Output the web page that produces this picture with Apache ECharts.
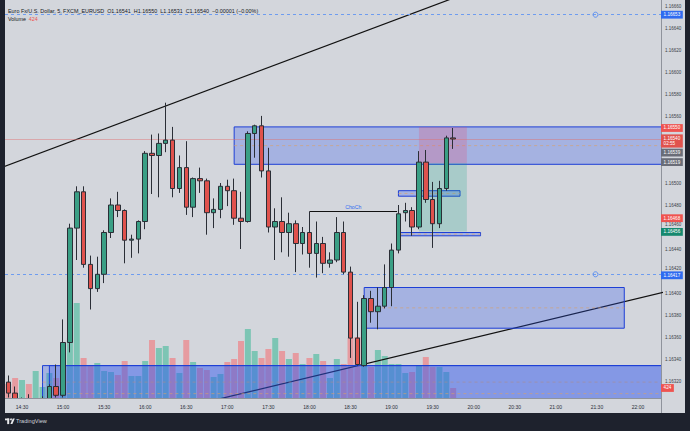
<!DOCTYPE html>
<html><head><meta charset="utf-8">
<script src="https://cdn.jsdelivr.net/npm/echarts@6/dist/echarts.min.js"></script>
<style>html,body{margin:0;padding:0;background:#1e222d;}#c{width:690px;height:431px;}</style>
</head><body><div id="c"></div><script>
// ---------- DATA ----------
const symbolTitle = 'Euro Fx/U.S. Dollar, 5, FXCM_EURUSD';
const times = ['14:20','14:25','14:30','14:35','14:40','14:45','14:50','14:55',
'15:00','15:05','15:10','15:15','15:20','15:25','15:30','15:35','15:40','15:45','15:50','15:55',
'16:00','16:05','16:10','16:15','16:20','16:25','16:30','16:35','16:40','16:45','16:50','16:55',
'17:00','17:05','17:10','17:15','17:20','17:25','17:30','17:35','17:40','17:45','17:50','17:55',
'18:00','18:05','18:10','18:15','18:20','18:25','18:30','18:35','18:40','18:45','18:50','18:55',
'19:00','19:05','19:10','19:15','19:20','19:25','19:30','19:35','19:40','19:45'];
const opens = [1.16319,1.16309,1.16298,1.16302,1.16297,1.16300,1.16302,1.16315,
1.16307,1.16355,1.16459,1.16492,1.16426,1.16404,1.16417,1.16455,1.16480,1.16475,1.16448,1.16449,
1.16465,1.16527,1.16525,1.16536,1.16539,1.16495,1.16514,1.16478,1.16504,1.16502,1.16473,1.16476,
1.16497,1.16493,1.16468,1.16465,1.16545,1.16552,1.16511,1.16460,1.16465,1.16455,1.16463,1.16445,
1.16455,1.16436,1.16445,1.16427,1.16430,1.16455,1.16419,1.16359,1.16334,1.16395,1.16383,1.16388,
1.16405,1.16439,1.16473,1.16475,1.16460,1.16519,1.16485,1.16463,1.16495,1.16541];
const highs = [1.16325,1.16315,1.16305,1.16308,1.16304,1.16306,1.16317,1.16335,
1.16376,1.16463,1.16497,1.16497,1.16434,1.16433,1.16457,1.16486,1.16492,1.16476,1.16453,1.16466,
1.16529,1.16544,1.16545,1.16573,1.16551,1.16525,1.16538,1.16505,1.16514,1.16504,1.16486,1.16500,
1.16503,1.16504,1.16492,1.16547,1.16553,1.16561,1.16532,1.16477,1.16487,1.16473,1.16466,1.16460,
1.16474,1.16465,1.16451,1.16437,1.16469,1.16465,1.16424,1.16392,1.16398,1.16402,1.16405,1.16426,
1.16445,1.16480,1.16482,1.16478,1.16529,1.16530,1.16501,1.16502,1.16543,1.16550];
const lows = [1.16305,1.16298,1.16294,1.16294,1.16293,1.16296,1.16299,1.16305,
1.16305,1.16346,1.16430,1.16423,1.16385,1.16401,1.16409,1.16450,1.16469,1.16427,1.16432,1.16436,
1.16458,1.16490,1.16487,1.16528,1.16487,1.16491,1.16471,1.16469,1.16491,1.16453,1.16459,1.16468,
1.16479,1.16462,1.16440,1.16464,1.16523,1.16505,1.16455,1.16430,1.16437,1.16433,1.16419,1.16435,
1.16423,1.16414,1.16418,1.16423,1.16428,1.16417,1.16341,1.16334,1.16333,1.16373,1.16367,1.16386,
1.16388,1.16436,1.16465,1.16452,1.16458,1.16482,1.16441,1.16459,1.16493,1.16531];
const closes = [1.16309,1.16301,1.16302,1.16297,1.16301,1.16303,1.16315,1.16307,
1.16355,1.16459,1.16492,1.16426,1.16404,1.16417,1.16455,1.16480,1.16475,1.16448,1.16449,1.16465,
1.16527,1.16525,1.16536,1.16539,1.16495,1.16514,1.16478,1.16504,1.16502,1.16473,1.16476,1.16497,
1.16493,1.16468,1.16465,1.16545,1.16552,1.16511,1.16460,1.16465,1.16455,1.16463,1.16445,1.16455,
1.16436,1.16445,1.16427,1.16430,1.16455,1.16419,1.16359,1.16335,1.16395,1.16383,1.16388,1.16405,
1.16439,1.16472,1.16475,1.16460,1.16519,1.16485,1.16463,1.16495,1.16541,1.16540];
const volumes = [594,848,763,594,1145,466,1060,848,
1908,2544,4028,1696,1399,1484,1145,1102,975,1569,933,933,
1569,2459,2120,2205,1696,1060,2459,1526,1272,1187,890,1018,
1526,1654,2417,2926,1993,1696,2078,2544,1993,1654,1908,1442,
1696,1866,1569,848,1654,1442,2544,2586,1399,1314,2035,1781,
1442,1442,1060,1102,1399,1738,1314,1314,1102,424];
const xTickLabels = ['14:30','15:00','15:30','16:00','16:30','17:00','17:30','18:00','18:30','19:00','19:30','20:00','20:30','21:00','21:30','22:00'];
const yTickLabels = ['1.16320','1.16340','1.16360','1.16380','1.16400','1.16420','1.16440','1.16460','1.16480','1.16500','1.16520','1.16540','1.16560','1.16580','1.16600','1.16620','1.16640','1.16660'];
// drawings: [startTime, endTime, topPrice, bottomPrice]
const zoneBoxes = [
  ['17:05','22:30',1.16551,1.16517],
  ['19:05','19:50',1.16493,1.16488],
  ['19:06','20:05',1.16455,1.16452],
  ['18:40','21:50',1.16405,1.16368],
  ['14:45','22:30',1.16334,1.16304],
  ['14:50','22:30',1.16334,1.16283]
];
const positionTool = { from:'19:20', to:'19:55', stop:1.16551, entry:1.16518, target:1.16456 };
const trendLine1 = [['14:15',1.16514],['19:45',1.16668]];
const trendLine2 = [['16:45',1.16301],['22:20',1.16401]];
const chochLine = { from:'18:00', to:'19:04', price:1.16474, text:'ChoCh' };
const alertLevels = [1.16653, 1.16417];
const alertIconTime = '21:29';
const lastPrice = 1.16540, countdown = '02:55';
const redTags = [1.16550, 1.16468];
const greyTags = [1.16539, 1.16519];
const greenTags = [1.16456];

// ---------- HELPERS ----------
const toX = t => { const [h,m] = t.split(':').map(Number); return ((h-14)*60 + m)/5; };
const FONT = "'Liberation Sans', Arial, sans-serif";
const UP = '#3a9f85', DOWN = '#e0524d';
const n = times.length, li = n-1;
const candleData = times.map((t,i)=>[toX(t), opens[i], closes[i], lows[i], highs[i]]);
const volData = times.map((t,i)=>({value:[toX(t), volumes[i]], itemStyle:{color: closes[i]>=opens[i] ? '#7cc5b4' : '#e69ba0'}}));
const boxData = zoneBoxes.map(b=>[toX(b[0]), toX(b[1]), b[2], b[3]]);
const posData = [
  [toX(positionTool.from), toX(positionTool.to), positionTool.stop, positionTool.entry],
  [toX(positionTool.from), toX(positionTool.to), positionTool.entry, positionTool.target]
];
const posFills = ['rgba(236,64,110,0.22)','rgba(20,165,135,0.22)'];
// tick labels that sit exactly under a price tag are hidden; ones just above a tag are nudged up (as on the reference)
const allTags = [lastPrice, ...redTags, ...greyTags, ...greenTags, ...alertLevels];
const visibleYTicks = yTickLabels.map(Number).filter(v => !allTags.some(t => Math.abs(t - v) < 0.000015));
const yTickFormatter = v => {
  const s = v.toFixed(5);
  const below = allTags.some(t => t < v && v - t < 0.000045);
  return below ? `{u|${s}}` : s;
};

function rectOf(api){
  const a = api.coord([api.value(0), api.value(2)]);
  const b = api.coord([api.value(1), api.value(3)]);
  return {x:Math.min(a[0],b[0]), y:Math.min(a[1],b[1]), width:Math.abs(b[0]-a[0]), height:Math.abs(b[1]-a[1])};
}
function tagLabel(bg, text, offsetY){
  return {show:true, position:'end', distance:0, formatter:text, backgroundColor:bg, color:'#fff',
      fontSize:4.6, fontFamily:FONT, padding:[1.3,2.6,1.1,2.6], lineHeight:5.4, offset:[0, offsetY||0]};
}
function tag(price, bg, text, lineStyle, offsetY){
  return {
    yAxis: price,
    lineStyle: lineStyle || {color:'rgba(0,0,0,0)', width:0},
    label: tagLabel(bg, text || price.toFixed(5), offsetY)
  };
}
const prevClose = closes[li-1];
const chg = closes[li]-prevClose;
const sign = chg<0 ? '\u2212' : '+';
const headerText = `${symbolTitle}  O${opens[li].toFixed(5)}  H${highs[li].toFixed(5)}  L${lows[li].toFixed(5)}  C${closes[li].toFixed(5)}  ${sign}${Math.abs(chg).toFixed(5)} (${sign}${Math.abs(chg/prevClose*100).toFixed(2)}%)`;

const X_MIN = 3.516, X_MAX = 99.366;
const Y_MIN = 1.1630455, Y_MAX = 1.1666636;

const chart = echarts.init(document.getElementById('c'), null, {renderer:'svg'});
chart.setOption({
  animation:false,
  backgroundColor:'#d3d6dc',
  grid:{left:5, top:0, width:656, height:398},
  xAxis:{type:'value', min:X_MIN, max:X_MAX, z:45,
    axisLine:{show:true, lineStyle:{color:'#8f939c', width:1}},
    axisTick:{show:false}, splitLine:{show:false},
    axisLabel:{customValues:xTickLabels.map(toX), formatter:v=>xTickLabels[xTickLabels.map(toX).indexOf(v)] || '', color:'#2a2e39', fontSize:5, fontFamily:FONT, margin:6}
  },
  yAxis:[
    {type:'value', position:'right', min:Y_MIN, max:Y_MAX,
      axisLine:{show:true, lineStyle:{color:'#8f939c', width:1}},
      axisTick:{show:false}, splitLine:{show:false},
      axisLabel:{customValues:visibleYTicks, formatter:yTickFormatter, color:'#3a3e48', fontSize:4.5, fontFamily:FONT, margin:4,
        rich:{u:{fontSize:4.5, fontFamily:FONT, color:'#3a3e48', padding:[0,0,6,0]}}}
    },
    {type:'value', min:0, max:16875, show:false}
  ],
  series:[
    {type:'bar', name:'Volume', yAxisIndex:1, data:volData, barWidth:6, z:1, silent:true,
      markLine:{symbol:'none', silent:true, precision:0, data:[tag(volumes[li], '#ef5350', String(volumes[li]))]}},
    {type:'line', data:trendLine2.map(p=>[toX(p[0]),p[1]]), symbol:'none', clip:true, z:2,
      lineStyle:{color:'#111', width:1.2}},
    {type:'custom', data:boxData, clip:true, z:3, encode:{x:[0,1], y:[2,3]},
      renderItem:(params, api)=>{
        const r = rectOf(api);
        return {type:'group', children:[
          {type:'rect', shape:r, style:{fill:'rgba(45,85,240,0.28)', stroke:'#1d3fd6', lineWidth:1}},
          {type:'line', shape:{x1:r.x, y1:r.y+r.height/2, x2:r.x+r.width, y2:r.y+r.height/2}, style:{stroke:'rgba(214,160,110,0.8)', lineWidth:0.8, lineDash:[3,3]}}
        ]};
      }},
    {type:'custom', data:posData, clip:true, z:3, encode:{x:[0,1], y:[2,3]},
      renderItem:(params, api)=>({type:'rect', shape:rectOf(api), style:{fill:posFills[params.dataIndex]}})},
    {type:'line', data:trendLine1.map(p=>[toX(p[0]),p[1]]), symbol:'none', clip:true, z:4,
      lineStyle:{color:'#111', width:1.2}},
    {type:'candlestick', data:candleData, barWidth:5, z:5, clip:true,
      dimensions:['time','open','close','lowest','highest'],
      encode:{x:'time', y:['open','close','lowest','highest']},
      itemStyle:{color:UP, color0:DOWN, borderColor:'#2a2e36', borderColor0:'#2a2e36', borderWidth:1}},
    {type:'line', data:[], z:6,
      markLine:{symbol:'none', silent:true, precision:5, data:[
        tag(alertLevels[0],'#2f6bf0',null,{color:'#6d9cf0', type:[3,3], width:1}),
        tag(alertLevels[1],'#2f6bf0',null,{color:'#6d9cf0', type:[3,3], width:1}, 1),
        tag(lastPrice,'#e0524d', lastPrice.toFixed(5)+'\n'+countdown, {color:'rgba(225,110,110,0.45)', width:1, type:'solid'}, 2),
        ...redTags.map(p=>tag(p,'#ef5350')),
        tag(greyTags[0],'#6a6d78',null,null,12.5),
        tag(greyTags[1],'#6a6d78'),
        ...greenTags.map(p=>tag(p,'#16896f', null, null, 0.5)),
        [{coord:[toX(chochLine.from), chochLine.price], lineStyle:{color:'#111', width:1.2, type:'solid'},
          label:{show:true, position:'insideMiddleTop', formatter:chochLine.text, color:'#2f6bf0', fontSize:5.2, fontFamily:FONT, distance:2}},
         {coord:[toX(chochLine.to), chochLine.price]}]
      ]},
      markPoint:{silent:true, symbol:'circle', symbolSize:5, label:{show:false},
        itemStyle:{color:'rgba(0,0,0,0)', borderColor:'#5a8ef0', borderWidth:1},
        data:alertLevels.map(p=>({coord:[toX(alertIconTime), p]}))}
    }
  ],
  graphic:[
    {type:'rect', z:40, shape:{x:5, y:398.5, width:656, height:15}, style:{fill:'#d3d6dc'}},
    {type:'text', left:8, top:8.6, z:50, style:{text:headerText, font:`5.4px ${FONT}`, fill:'#131722'}},
    {type:'text', left:8, top:16.4, z:50, style:{text:'Volume', font:`5.4px ${FONT}`, fill:'#131722'}},
    {type:'text', left:28.8, top:16.4, z:50, style:{text:String(volumes[li]), font:`5.4px ${FONT}`, fill:'#ef5350'}},
    {type:'line', z:50, shape:{x1:661.5, y1:398, x2:661.5, y2:413}, style:{stroke:'#8f939c', lineWidth:1}},
    {type:'rect', z:60, shape:{x:0, y:0, width:5, height:431}, style:{fill:'#1e222d'}},
    {type:'rect', z:60, shape:{x:685, y:0, width:5, height:431}, style:{fill:'#1e222d'}},
    {type:'rect', z:60, shape:{x:0, y:413, width:690, height:18}, style:{fill:'#1e222d'}},
    {type:'rect', z:61, shape:{x:5, y:418.5, width:4.2, height:1.8}, style:{fill:'#e8e9ec'}},
    {type:'rect', z:61, shape:{x:7.2, y:418.5, width:2, height:5.6}, style:{fill:'#e8e9ec'}},
    {type:'circle', z:61, shape:{cx:11, cy:419.4, r:0.9}, style:{fill:'#e8e9ec'}},
    {type:'polygon', z:61, shape:{points:[[10.4,424.1],[12.8,418.5],[14.8,418.5],[12.4,424.1]]}, style:{fill:'#e8e9ec'}},
    {type:'text', z:61, left:16, top:418.2, style:{text:'TradingView', font:`5.6px ${FONT}`, fill:'#d1d4dc'}}
  ]
});
</script></body></html>
